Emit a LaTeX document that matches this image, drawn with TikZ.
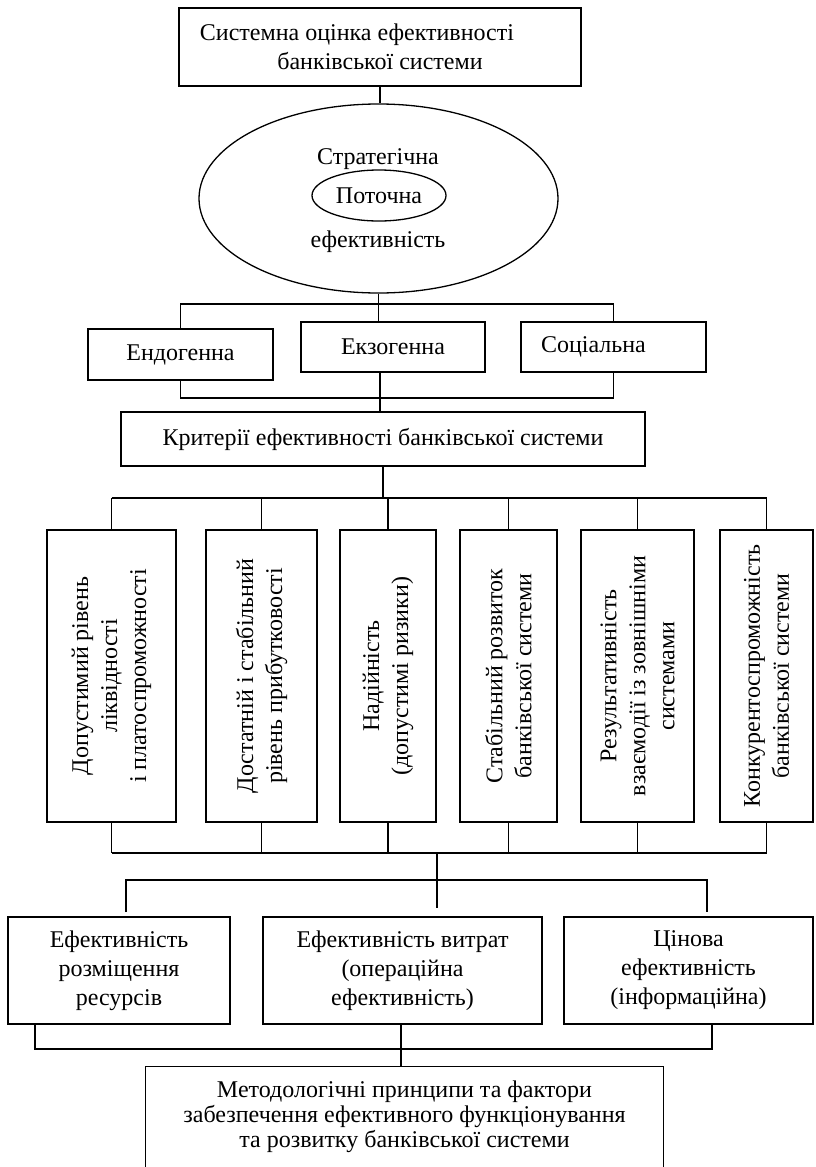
\documentclass[tikz,border=0pt]{standalone}
\usepackage{fontspec}
\setmainfont{Liberation Serif}
\usetikzlibrary{shapes.geometric}

\tikzset{
  box/.style={draw, line width=1.3pt, inner sep=2pt, align=center},
  vbox/.style={box, rotate=90, minimum width=292pt},
  oval/.style={draw, ellipse, line width=1.3pt, inner sep=0pt},
  link/.style={line width=1.3pt},
}

\begin{document}
\begin{tikzpicture}[x=1pt, y=-1pt, font=\fontsize{24}{29}\selectfont]
        \useasboundingbox (0,0) rectangle (815,1167);
        \clip (0,0) rectangle (815,1167);

        \node[box, minimum width=402pt, minimum height=78pt] (sys) at (380,47)
          {Системна оцінка ефективності\hspace*{46pt}\\банківської системи};

        \node[oval, minimum width=359pt, minimum height=189pt] (strat) at (378.5,198.5) {};
        \node[anchor=base] (stratup) at (378,164) {Стратегічна};
        \node[oval, minimum width=134pt, minimum height=51pt] (cur) at (379,195.5) {Поточна};
        \node[anchor=base] (stratdn) at (378,247) {ефективність};
        \draw[link] (sys.south) -- (sys.south |- strat.north);

        \node[box, minimum width=185pt, minimum height=51pt] (endo) at (180.5,354.5) {Ендогенна};
        \node[box, minimum width=184pt, minimum height=50pt] (ekzo) at (393,347) {Екзогенна};
        \node[box, minimum width=185pt, minimum height=50pt] (soc) at (613.5,347) {Соціальна\hspace*{40pt}};

        \coordinate (up) at (379,304);
        \draw[link] (strat.south) -- (strat.south |- ekzo.north);
        \draw[link] (endo.north) |- (up) -| (soc.north);

        \node[box, minimum width=524pt, minimum height=54pt] (crit) at (383,439)
          {Критерії ефективності банківської системи};

        \coordinate (dn) at (380,398);
        \draw[link] (endo.south) |- (dn) -| (soc.south);
        \draw[link] (dn |- ekzo.south) -- (dn |- crit.north);

        \node[vbox, minimum height=129pt] (c1) at (111.5,676)
          {Допустимий рівень\\ліквідності\\і платоспроможності};
        \node[vbox, minimum height=111pt] (c2) at (261.5,676)
          {Достатній і стабільний\\рівень прибутковості};
        \node[vbox, minimum height=96pt] (c3) at (388,676)
          {Надійність\\(допустимі ризики)};
        \node[vbox, minimum height=97pt] (c4) at (508.5,676)
          {Стабільний розвиток\\банківської системи};
        \node[vbox, minimum height=113pt] (c5) at (637.5,676)
          {Результативність\\взаємодії із зовнішніми\\системами};
        \node[vbox, minimum height=93pt] (c6) at (766.5,676)
          {Конкурентоспроможність\\банківської системи};

        \coordinate (ctop) at (383,498);
        \coordinate (cbot) at (437,853);
        \draw[link] (crit.south) -- (ctop);
        \draw[link] (c1.east |- ctop) -- (c6.east |- ctop);
        \draw[link] (c1.west |- cbot) -- (c6.west |- cbot);
        \foreach \i in {1,...,6} {
          \draw[link] (c\i.east) -- (c\i.east |- ctop);
          \draw[link] (c\i.west) -- (c\i.west |- cbot);
        }

        \coordinate (split) at (437,880);
        \coordinate (stub) at (437,908);
        \coordinate (d1) at (126,912);
        \coordinate (d3) at (707,912);
        \draw[link] (cbot) -- (stub);
        \draw[link] (d1) |- (split) -| (d3);

        \node[box, minimum width=222pt, minimum height=107pt] (e1) at (119,970.5)
          {Ефективність\\розміщення\\ресурсів};
        \node[box, minimum width=279pt, minimum height=107pt] (e2) at (402.5,970.5)
          {Ефективність витрат\\(операційна\\ефективність)};
        \node[box, minimum width=249pt, minimum height=107pt] (e3) at (688.5,970.5)
          {Цінова\\ефективність\\(інформаційна)};

        \node[align=center, inner sep=0pt, minimum width=517pt, minimum height=100pt,
          font=\fontsize{24}{25}\selectfont] (meth) at (404.5,1117)
          {Методологічні принципи та фактори\\забезпечення ефективного функціонування\\та розвитку банківської системи};
        \draw[link] ([yshift=-30pt]meth.south west) -- (meth.north west)
          -- (meth.north east) -- ([yshift=-30pt]meth.south east);

        \coordinate (join) at (401,1049);
        \draw[link] ([xshift=-84pt]e1.south) |- (join) -| ([xshift=23.5pt]e3.south);
        \draw[link] (join |- e2.south) -- (join |- meth.north);
\end{tikzpicture}
\end{document}
